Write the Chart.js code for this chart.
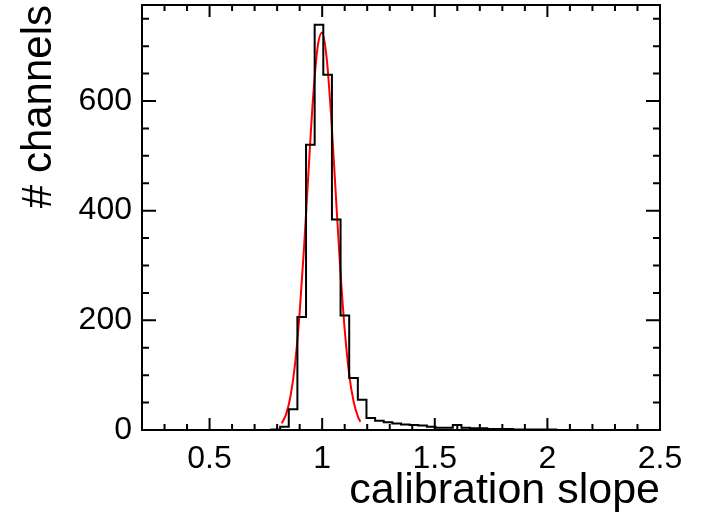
<!DOCTYPE html>
<html>
<head>
<meta charset="utf-8">
<script src="https://cdn.jsdelivr.net/npm/chart.js@4"></script>
<style>
  html, body { margin: 0; padding: 0; background: #fff; }
  #wrap { width: 705px; height: 527px; position: relative; }
</style>
</head>
<body>
<div id="wrap"><canvas id="myChart"></canvas></div>
<script>
// histogram: 60 bins between histStart and histEnd
const histStart = 0.2;
const histEnd = 2.5;
const binCounts = [
  0, 0, 0, 0, 0, 0, 0, 0, 0, 0,
  0, 0, 0, 0, 0, 1, 6, 38, 206, 520,
  739, 648, 384, 209, 95, 55, 22, 17, 14, 12,
  10, 9, 8, 6, 4, 4, 9, 4, 3, 3,
  2, 2, 2, 1, 1, 1, 1, 1, 0, 0,
  0, 0, 0, 0, 0, 0, 0, 0, 0, 0
];

// gaussian fit
const fitX = [0.82, 0.84, 0.86, 0.88, 0.90, 0.92, 0.94, 0.96, 0.98, 1.00,
              1.02, 1.04, 1.06, 1.08, 1.10, 1.12, 1.14, 1.16, 1.17];
const fitY = [12, 29, 63, 122, 214, 336, 476, 608, 699, 725,
              678, 571, 433, 296, 183, 101, 51, 23, 15];

const xTicks = [0.5, 1, 1.5, 2, 2.5];
const yTicks = [0, 200, 400, 600];
const yMax = 775;

const fontFamily = "'Liberation Sans', Arial, Helvetica, sans-serif";

const binWidth = (histEnd - histStart) / binCounts.length;
const histPoints = binCounts.map((c, i) => ({ x: histStart + i * binWidth, y: c }));
histPoints.push({ x: histEnd, y: 0 });

const fitPoints = fitX.map((v, i) => ({ x: v, y: fitY[i] }));

// ROOT style frame with inward ticks on all four sides
const framePlugin = {
  id: 'frame',
  afterDatasetsDraw(chart) {
    const { ctx, chartArea: a, scales: { x, y } } = chart;
    ctx.save();
    ctx.strokeStyle = '#000';
    ctx.lineWidth = 2;
    ctx.strokeRect(a.left, a.top, a.right - a.left, a.bottom - a.top);
    ctx.beginPath();
    for (let i = 3; i <= 24; i++) {
      const px = x.getPixelForValue(i / 10);
      const len = i % 5 === 0 ? 12 : 6;
      ctx.moveTo(px, a.bottom); ctx.lineTo(px, a.bottom - len);
      ctx.moveTo(px, a.top); ctx.lineTo(px, a.top + len);
    }
    for (let v = 50; v < yMax; v += 50) {
      const py = y.getPixelForValue(v);
      const len = v % 200 === 0 ? 14 : 7;
      ctx.moveTo(a.left, py); ctx.lineTo(a.left + len, py);
      ctx.moveTo(a.right, py); ctx.lineTo(a.right - len, py);
    }
    ctx.stroke();
    ctx.restore();
  }
};

const config = {
  type: 'scatter',
  data: {
    datasets: [
      {
        label: 'hist',
        data: histPoints,
        showLine: true,
        stepped: 'before',
        borderColor: '#000',
        borderWidth: 2,
        pointRadius: 0,
        fill: false
      },
      {
        label: 'fit',
        data: fitPoints,
        showLine: true,
        cubicInterpolationMode: 'monotone',
        borderColor: '#ff0000',
        borderWidth: 2,
        pointRadius: 0,
        fill: false
      }
    ]
  },
  options: {
    responsive: true,
    maintainAspectRatio: false,
    animation: false,
    events: [],
    layout: { padding: { top: 5, right: 45, left: 0, bottom: 0 } },
    plugins: { legend: { display: false }, tooltip: { enabled: false } },
    scales: {
      x: {
        type: 'linear',
        min: histStart,
        max: histEnd,
        afterFit: (s) => { s.height = 97; s.paddingLeft = 0; s.paddingRight = 0; },
        afterBuildTicks: (s) => { s.ticks = xTicks.map(v => ({ value: v })); },
        grid: { display: false, drawTicks: false },
        border: { display: false },
        ticks: {
          color: '#000',
          padding: 10,
          maxRotation: 0,
          autoSkip: false,
          font: { family: fontFamily, size: 32 },
          callback: (v) => String(v)
        },
        title: {
          display: true,
          text: 'calibration slope',
          align: 'end',
          color: '#000',
          font: { family: fontFamily, size: 43 },
          padding: { top: 0, bottom: 10 }
        }
      },
      y: {
        type: 'linear',
        min: 0,
        max: yMax,
        afterFit: (s) => { s.width = 142; s.paddingTop = 0; s.paddingBottom = 0; },
        afterBuildTicks: (s) => { s.ticks = yTicks.map(v => ({ value: v })); },
        grid: { display: false, drawTicks: false },
        border: { display: false },
        ticks: {
          color: '#000',
          padding: 10,
          autoSkip: false,
          font: { family: fontFamily, size: 32 },
          callback: (v) => String(v)
        },
        title: {
          display: true,
          text: '# channels',
          align: 'end',
          color: '#000',
          font: { family: fontFamily, size: 42 },
          padding: { top: 14, bottom: 0 }
        }
      }
    }
  },
  plugins: [framePlugin]
};

const myChart = new Chart(document.getElementById('myChart'), config);
</script>
</body>
</html>
